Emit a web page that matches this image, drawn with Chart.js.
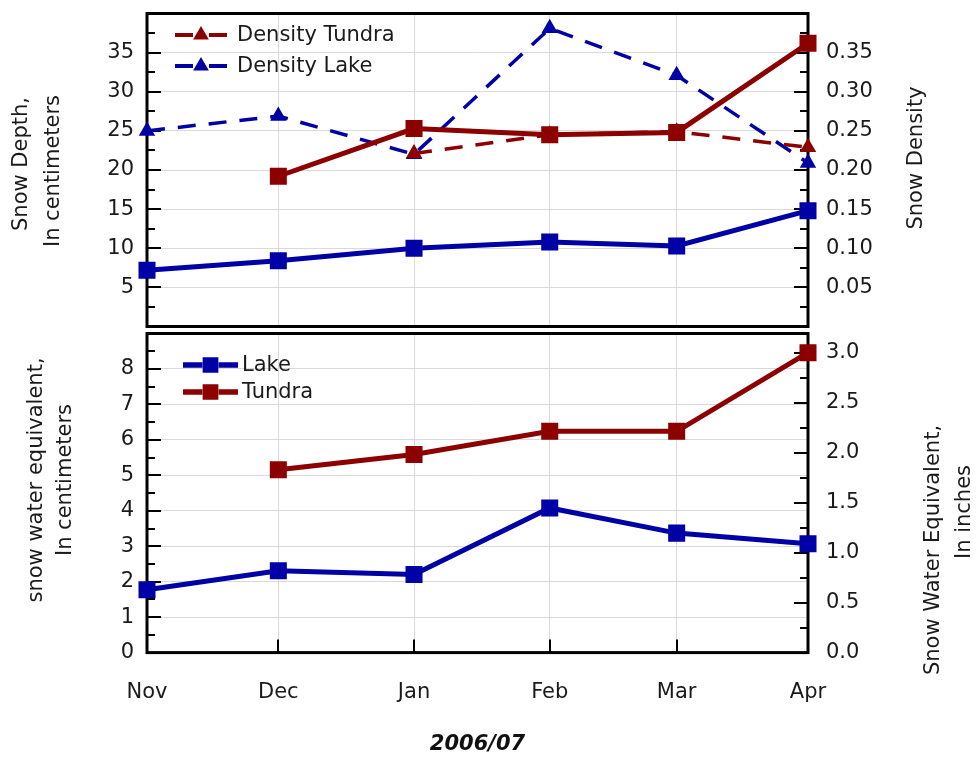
<!DOCTYPE html>
<html>
<head>
<meta charset="utf-8">
<script src="https://cdn.jsdelivr.net/npm/chart.js@4.4.1/dist/chart.umd.min.js"></script>
<style>
  html, body { margin: 0; padding: 0; background: #fff; }
  #wrap { position: relative; width: 977px; height: 757px; }
  #topBox { position: absolute; left: 0; top: 0; width: 977px; height: 340px; }
  #botBox { position: absolute; left: 0; top: 320px; width: 977px; height: 437px; }
</style>
</head>
<body>
<div id="wrap">
  <div id="topBox"><canvas id="chartTop"></canvas></div>
  <div id="botBox"><canvas id="chartBottom"></canvas></div>
</div>
<script>
// months on a day axis (days since Nov 1)
const monthLabels = ['Nov', 'Dec', 'Jan', 'Feb', 'Mar', 'Apr'];
const monthDays = [0, 30, 61, 92, 121, 151];

// top panel: snow depth (cm) and density
const depthLake = [7.2, 8.4, 10.0, 10.8, 10.3, 14.8];
const depthTundra = [null, 19.2, 25.3, 24.5, 24.8, 36.2];
const densityTundra = [null, null, 0.221, 0.245, 0.249, 0.229];
const densityLake = [0.250, 0.269, 0.220, 0.381, 0.321, 0.209];

// bottom panel: snow water equivalent (cm)
const sweLake = [1.77, 2.31, 2.20, 4.08, 3.37, 3.07];
const sweTundra = [null, 5.16, 5.59, 6.24, 6.24, 8.46];

// right axis labels of the bottom panel (inches)
const inchTicks = [0, 0.5, 1.0, 1.5, 2.0, 2.5, 3.0];

const BLUE = '#0000a6';
const RED = '#8c0000';
const FONT = '"DejaVu Sans", "Liberation Sans", sans-serif';
const LEFT_W = 147, RIGHT_W = 169;

Chart.defaults.font.family = FONT;
Chart.defaults.color = '#1a1a1a';

function pts(vals) {
  return vals.map((v, i) => ({ x: monthDays[i], y: v }));
}

function fixWidth(w) {
  return function (s) {
    s.width = w;
    s.paddingTop = 0;
    s.paddingBottom = 0;
  };
}

function setMonthTicks(s) {
  s.ticks = monthDays.map(v => ({ value: v }));
}

// frame plus tick marks pointing into the plot
const innerTicks = {
  id: 'innerTicks',
  beforeDatasetsDraw(chart, args, opts) {
    const ctx = chart.ctx;
    const a = chart.chartArea;
    ctx.save();
    ctx.strokeStyle = '#000';
    ctx.lineWidth = 2;
    ctx.beginPath();
    (opts.axes || []).forEach(ax => {
      const s = chart.scales[ax.id];
      const n = Math.round((s.max - s.min) / ax.minor);
      for (let i = 0; i <= n; i++) {
        const v = s.min + i * ax.minor;
        const r = v / ax.major;
        const len = Math.abs(r - Math.round(r)) < 1e-6 ? 14 : 8;
        const p = Math.round(s.getPixelForValue(v));
        if (ax.side === 'left') { ctx.moveTo(a.left, p); ctx.lineTo(a.left + len, p); }
        else { ctx.moveTo(a.right, p); ctx.lineTo(a.right - len, p); }
      }
    });
    (opts.xValues || []).forEach(v => {
      const p = Math.round(chart.scales.x.getPixelForValue(v));
      ctx.moveTo(p, a.bottom); ctx.lineTo(p, a.bottom - 13);
    });
    ctx.stroke();
    ctx.lineWidth = 3;
    ctx.strokeRect(a.left, a.top, a.right - a.left, a.bottom - a.top);
    ctx.restore();
  }
};

// rotated axis titles
const sideTitles = {
  id: 'sideTitles',
  afterDraw(chart, args, opts) {
    const ctx = chart.ctx;
    ctx.save();
    ctx.fillStyle = '#1a1a1a';
    ctx.font = '21px ' + FONT;
    ctx.textAlign = 'center';
    ctx.textBaseline = 'middle';
    (opts.items || []).forEach(t => {
      ctx.save();
      ctx.translate(t.x, t.y);
      ctx.rotate(-Math.PI / 2);
      ctx.fillText(t.text, 0, 0);
      ctx.restore();
    });
    ctx.restore();
  }
};

// legend inside the plot, upper left
const boxLegend = {
  id: 'boxLegend',
  afterDatasetsDraw(chart, args, opts) {
    const ctx = chart.ctx;
    (opts.items || []).forEach(it => {
      const ds = chart.data.datasets[it.index];
      const L = opts.lineLength;
      ctx.save();
      ctx.strokeStyle = ds.borderColor;
      ctx.lineWidth = ds.borderWidth + 0.5;
      ctx.beginPath();
      ctx.moveTo(it.x, it.y); ctx.lineTo(it.x + L / 2 - 8, it.y);
      ctx.moveTo(it.x + L / 2 + 8, it.y); ctx.lineTo(it.x + L, it.y);
      ctx.stroke();
      ctx.fillStyle = ds.pointBackgroundColor;
      ctx.strokeStyle = ds.pointBorderColor;
      Chart.helpers.drawPoint(ctx, { pointStyle: ds.pointStyle, radius: ds.pointRadius * 0.85, rotation: 0, borderWidth: 1 }, it.x + L / 2, it.y);
      ctx.fillStyle = '#1a1a1a';
      ctx.font = '21px ' + FONT;
      ctx.textAlign = 'left';
      ctx.textBaseline = 'middle';
      ctx.fillText(ds.label, it.x + L + opts.gap, it.y + 1);
      ctx.restore();
    });
  }
};

function solid(label, vals, color, axis) {
  return {
    label: label, data: pts(vals), yAxisID: axis,
    borderColor: color, borderWidth: 5,
    pointStyle: 'rect', pointRadius: 8.5, pointBackgroundColor: color, pointBorderColor: color,
    spanGaps: false, clip: false
  };
}

function dashed(label, vals, color, axis) {
  return {
    label: label, data: pts(vals), yAxisID: axis,
    borderColor: color, borderWidth: 3.5, borderDash: [18, 13],
    pointStyle: 'triangle', pointRadius: 6, pointBackgroundColor: color, pointBorderColor: color,
    spanGaps: false, clip: false
  };
}

const gridColor = '#d9d9d9';
const tickFont = { size: 21 };

new Chart(document.getElementById('chartTop'), {
  type: 'line',
  data: {
    datasets: [
      solid('Tundra', depthTundra, RED, 'y'),
      solid('Lake', depthLake, BLUE, 'y'),
      dashed('Density Tundra', densityTundra, RED, 'y2'),
      dashed('Density Lake', densityLake, BLUE, 'y2')
    ]
  },
  options: {
    responsive: true,
    maintainAspectRatio: false,
    animation: false,
    layout: { padding: { top: 10, bottom: 9, left: 0, right: 0 } },
    plugins: {
      legend: { display: false },
      tooltip: { enabled: false },
      innerTicks: {
        axes: [
          { id: 'y', major: 5, minor: 2.5, side: 'left' },
          { id: 'y2', major: 0.05, minor: 0.025, side: 'right' }
        ]
      },
      sideTitles: {
        items: [
          { text: 'Snow Depth,', x: 22, y: 164 },
          { text: 'In centimeters', x: 54, y: 171 },
          { text: 'Snow Density', x: 917, y: 158 }
        ]
      },
      boxLegend: {
        lineLength: 52, gap: 10,
        items: [
          { index: 2, x: 175, y: 35 },
          { index: 3, x: 175, y: 66 }
        ]
      }
    },
    scales: {
      x: {
        type: 'linear', min: 0, max: 151,
        afterBuildTicks: setMonthTicks,
        ticks: { display: false },
        grid: { color: gridColor, drawTicks: false },
        border: { display: false }
      },
      y: {
        position: 'left', min: 0, max: 40,
        afterFit: fixWidth(LEFT_W),
        ticks: { stepSize: 5, autoSkip: false, padding: 13, font: tickFont,
          callback: v => (v > 0 && v < 40) ? String(v) : '' },
        grid: { color: gridColor, drawTicks: false },
        border: { display: false }
      },
      y2: {
        position: 'right', min: 0, max: 0.4,
        afterFit: fixWidth(RIGHT_W),
        ticks: { stepSize: 0.05, autoSkip: false, padding: 18, font: tickFont,
          callback: v => (v > 0.001 && v < 0.399) ? v.toFixed(2) : '' },
        grid: { display: false, drawTicks: false },
        border: { display: false }
      }
    }
  },
  plugins: [innerTicks, sideTitles, boxLegend]
});

new Chart(document.getElementById('chartBottom'), {
  type: 'line',
  data: {
    datasets: [
      solid('Lake', sweLake, BLUE, 'y'),
      solid('Tundra', sweTundra, RED, 'y')
    ]
  },
  options: {
    responsive: true,
    maintainAspectRatio: false,
    animation: false,
    layout: { padding: { top: 13, bottom: 0, left: 0, right: 0 } },
    plugins: {
      legend: { display: false },
      tooltip: { enabled: false },
      innerTicks: {
        axes: [
          { id: 'y', major: 1, minor: 0.5, side: 'left' },
          { id: 'y2', major: 0.5, minor: 0.25, side: 'right' }
        ],
        xValues: monthDays.slice(1, -1)
      },
      sideTitles: {
        items: [
          { text: 'snow water equivalent,', x: 37, y: 160 },
          { text: 'In centimeters', x: 66, y: 160 },
          { text: 'Snow Water Equivalent,', x: 934, y: 230 },
          { text: 'In inches', x: 965, y: 192 }
        ]
      },
      boxLegend: {
        lineLength: 55, gap: 4,
        items: [
          { index: 0, x: 183, y: 45 },
          { index: 1, x: 183, y: 72 }
        ]
      }
    },
    scales: {
      x: {
        type: 'linear', min: 0, max: 151,
        afterBuildTicks: setMonthTicks,
        ticks: { padding: 27, font: tickFont, maxRotation: 0, autoSkip: false,
          callback: (v, i) => monthLabels[i] },
        grid: { color: gridColor, drawTicks: false },
        border: { display: false },
        title: { display: true, text: '2006/07', font: { size: 21, weight: 'bold', style: 'italic' },
          color: '#111', padding: { top: 0, bottom: 0 } }
      },
      y: {
        position: 'left', min: 0, max: 9,
        afterFit: fixWidth(LEFT_W),
        ticks: { stepSize: 1, autoSkip: false, padding: 13, font: tickFont,
          callback: v => v < 8.5 ? String(v) : '' },
        grid: { color: gridColor, drawTicks: false },
        border: { display: false }
      },
      y2: {
        position: 'right', min: 0, max: 3.19,
        afterFit: fixWidth(RIGHT_W),
        afterBuildTicks: s => { s.ticks = inchTicks.map(v => ({ value: v })); },
        ticks: { autoSkip: false, padding: 18, font: tickFont,
          callback: v => v.toFixed(1) },
        grid: { display: false, drawTicks: false },
        border: { display: false }
      }
    }
  },
  plugins: [innerTicks, sideTitles, boxLegend]
});
</script>
</body>
</html>
